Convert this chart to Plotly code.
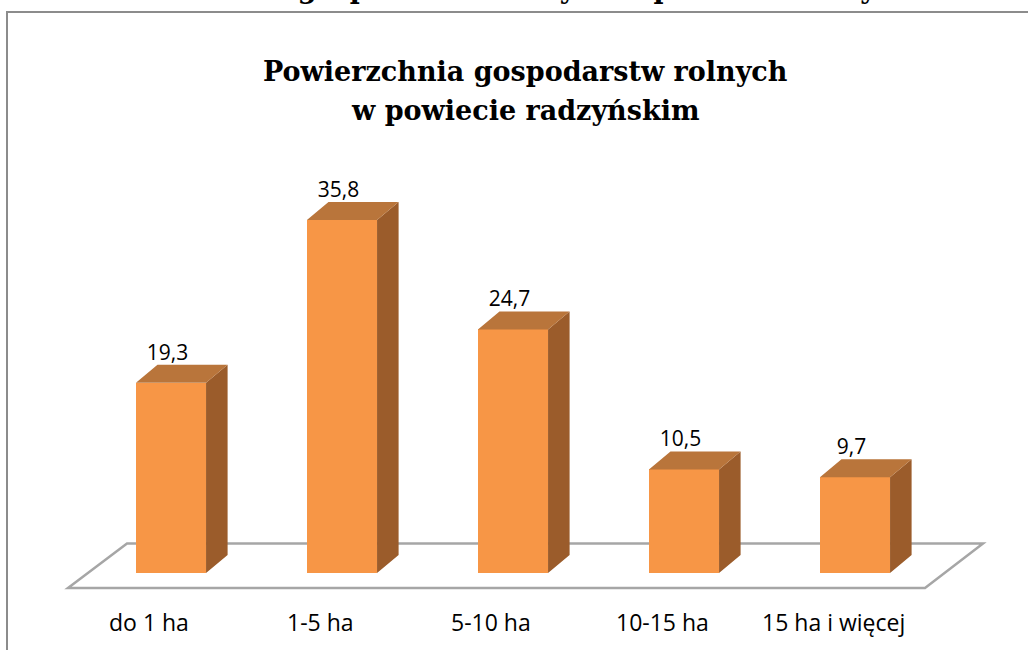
import plotly.graph_objects as go

# ---- data ----
categories = ["do 1 ha", "1-5 ha", "5-10 ha", "10-15 ha", "15 ha i więcej"]
values = [19.3, 35.8, 24.7, 10.5, 9.7]
value_labels = ["19,3", "35,8", "24,7", "10,5", "9,7"]
chart_title = ["Powierzchnia gospodarstw rolnych", "w powiecie radzyńskim"]
heading = "Powierzchnia gospodarstw rolnych w powiecie radzyńskim"

# ---- styling / geometry ----
W, H = 1028, 650
FRONT = "#F79646"
TOP = "#B9753B"
SIDE = "#9B5C2B"
bar_w = 0.41          # in category units
ddx = 0.126           # 3D depth offset (x, category units)
ddy = 1.83            # 3D depth offset (y, value units)

x_range = [-1.0, 5.0117]
y_range = [-7.81, 58.11]

xs = list(range(len(categories)))

fig = go.Figure()

# front faces
fig.add_trace(go.Bar(x=xs, y=values, width=bar_w, marker=dict(color=FRONT, line=dict(width=0)),
                     hoverinfo="skip", showlegend=False))

# top and side faces built from the data values
top_x, top_y, side_x, side_y = [], [], [], []
for x, v in zip(xs, values):
    xl, xr = x - bar_w / 2, x + bar_w / 2
    top_x += [xl, xl + ddx, xr + ddx, xr, xl, None]
    top_y += [v, v + ddy, v + ddy, v, v, None]
    side_x += [xr, xr, xr + ddx, xr + ddx, xr, None]
    side_y += [0, v, v + ddy, ddy, 0, None]

fig.add_trace(go.Scatter(x=side_x, y=side_y, fill="toself", fillcolor=SIDE, mode="lines",
                         line=dict(width=0, color=SIDE), hoverinfo="skip", showlegend=False))
fig.add_trace(go.Scatter(x=top_x, y=top_y, fill="toself", fillcolor=TOP, mode="lines",
                         line=dict(width=0, color=TOP), hoverinfo="skip", showlegend=False))

# value labels
fig.add_trace(go.Scatter(x=[x - 0.02 for x in xs], y=[v + ddy + 1.05 for v in values],
                         mode="text", text=value_labels, textposition="middle center",
                         textfont=dict(family="Open Sans", size=21, color="#000000"),
                         hoverinfo="skip", showlegend=False))

# floor (parallelogram)
fx0 = x_range[0]
floor_pts = [(68 / 171 + fx0, -1.52), (127 / 171 + fx0, 2.99), (983 / 171 + fx0, 2.99), (925 / 171 + fx0, -1.52)]
path = "M " + " L ".join(f"{px},{py}" for px, py in floor_pts) + " Z"
shapes = [
    dict(type="path", path=path, xref="x", yref="y", line=dict(color="#A6A6A6", width=2.5),
         fillcolor="rgba(255,255,255,0)", layer="below"),
    # chart frame
    dict(type="rect", xref="paper", yref="paper", x0=7 / W, x1=1.02, y0=-0.02, y1=1 - 12 / H,
         line=dict(color="#8C8C8C", width=2), fillcolor="rgba(0,0,0,0)", layer="below"),
]

annotations = []
# category labels
for x, c in zip(xs, categories):
    annotations.append(dict(x=x - 0.128, y=-4.97, xref="x", yref="y", text=c, showarrow=False,
                            font=dict(family="Open Sans", size=23, color="#000000")))
# chart title (two lines)
annotations.append(dict(x=525 / W, y=1 - 72 / H, xref="paper", yref="paper", text="<b>" + chart_title[0] + "</b>",
                        showarrow=False, font=dict(family="DejaVu Serif", size=27, color="#000000"),
                        xanchor="center", yanchor="middle"))
annotations.append(dict(x=525 / W, y=1 - 110 / H, xref="paper", yref="paper", text="<b>" + chart_title[1] + "</b>",
                        showarrow=False, font=dict(family="DejaVu Serif", size=27, color="#000000"),
                        xanchor="center", yanchor="middle"))
# heading of the page above, cut off by the crop (as in the reference)
annotations.append(dict(x=527 / W, y=1 + 11.5 / H, xref="paper", yref="paper", text="<b>" + heading + "</b>",
                        showarrow=False, font=dict(family="DejaVu Serif", size=27, color="#000000"),
                        xanchor="center", yanchor="middle"))

fig.update_layout(
    width=W, height=H,
    margin=dict(l=0, r=0, t=0, b=0),
    paper_bgcolor="white", plot_bgcolor="white",
    xaxis=dict(range=x_range, visible=False, fixedrange=True),
    yaxis=dict(range=y_range, visible=False, fixedrange=True),
    shapes=shapes, annotations=annotations,
    bargap=0, showlegend=False,
)

fig.write_html("out.html", config={"displayModeBar": False},
               post_script="document.body.style.margin='0';document.body.style.overflow='hidden';")
